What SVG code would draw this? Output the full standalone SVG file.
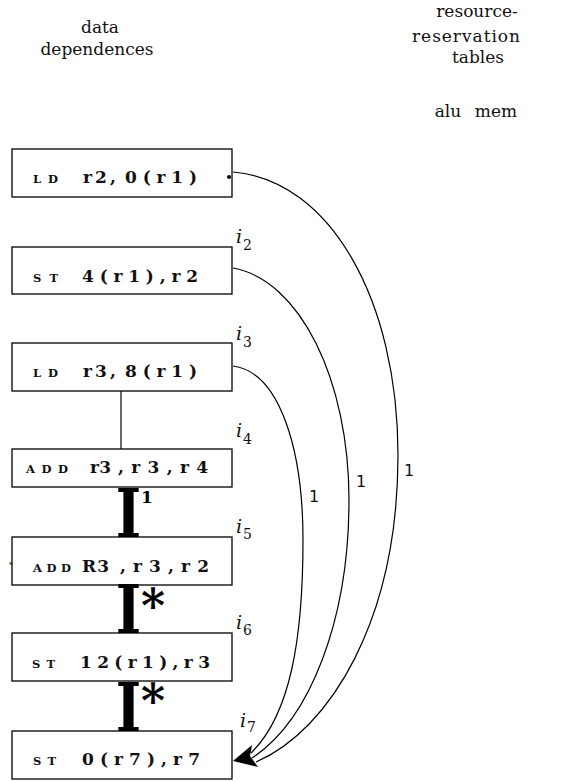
<svg xmlns="http://www.w3.org/2000/svg" width="580" height="782" viewBox="0 0 580 782">
<style>
.bg{fill:#fff}
.box{fill:#fff;stroke:#000;stroke-width:1.3}
.hd{font-family:'DejaVu Serif',serif;font-size:17px;fill:#111;text-anchor:middle}
.sc{font-family:'DejaVu Serif',serif;font-weight:bold;font-size:11.5px;fill:#111}
.tx{font-family:'DejaVu Serif',serif;font-weight:bold;font-size:17px;fill:#111}
.lbl{font-family:'DejaVu Serif',serif;font-style:italic;font-size:19px;fill:#111}
.sub{font-family:'DejaVu Serif',serif;font-size:14px;fill:#111}
.big{font-family:'DejaVu Serif',serif;font-weight:bold;font-size:68px;fill:#000}
.sup{font-family:'DejaVu Serif',serif;font-weight:bold;font-size:17px;fill:#000}
.ast{font-family:'DejaVu Serif',serif;font-weight:bold;font-size:46px;fill:#000}
.num{font-family:'DejaVu Sans',sans-serif;font-size:16px;fill:#111}
.arc{fill:none;stroke:#000;stroke-width:1.2}
</style>
<rect class="bg" x="0" y="0" width="580" height="782"/>

<g id="headers">
  <text class="hd" x="100" y="33">data</text>
  <text class="hd" x="97" y="55">dependences</text>
  <text class="hd" x="477" y="17">resource-</text>
  <text class="hd" x="466" y="42" textLength="108">reservation</text>
  <text class="hd" x="478" y="63">tables</text>
  <text class="hd" x="448" y="117">alu</text>
  <text class="hd" x="496" y="117">mem</text>
</g>

<g id="n1">
  <rect class="box" x="12" y="149" width="220" height="48"/>
  <text class="sc" x="33" y="183" textLength="25">LD</text>
  <text class="tx" x="83" y="183" textLength="33">r2,</text>
  <text class="tx" x="125" y="183" textLength="72">0(r1)</text>
  <circle cx="229" cy="177" r="2" fill="#000"/>
</g>

<g id="n2">
  <rect class="box" x="12" y="247" width="220" height="47"/>
  <text class="sc" x="33" y="282" textLength="25">ST</text>
  <text class="tx" x="82" y="282" textLength="116">4(r1),r2</text>
  <text class="lbl" x="236" y="243">i</text><text class="sub" x="243" y="250">2</text>
</g>

<g id="n3">
  <rect class="box" x="12" y="343" width="220" height="48"/>
  <text class="sc" x="33" y="377" textLength="25">LD</text>
  <text class="tx" x="83" y="377" textLength="33">r3,</text>
  <text class="tx" x="125" y="377" textLength="72">8(r1)</text>
  <text class="lbl" x="236" y="340">i</text><text class="sub" x="243" y="347">3</text>
</g>

<g id="n4">
  <rect class="box" x="12" y="449" width="220" height="38"/>
  <text class="sc" x="26" y="473" textLength="42">ADD</text>
  <text class="tx" x="90" y="473" textLength="21">r3</text>
  <text class="tx" x="118" y="473" textLength="90">,r3,r4</text>
  <text class="lbl" x="236" y="437">i</text><text class="sub" x="243" y="444">4</text>
</g>

<g id="n5">
  <rect class="box" x="12" y="537" width="220" height="48"/>
  <text class="sc" x="9" y="567" style="font-size:7px">*</text>
  <text class="sc" x="33" y="572" textLength="38">ADD</text>
  <text class="tx" x="82" y="572" textLength="27">R3</text>
  <text class="tx" x="120" y="572" textLength="89">,r3,r2</text>
  <text class="lbl" x="236" y="533">i</text><text class="sub" x="243" y="539">5</text>
</g>

<g id="n6">
  <rect class="box" x="12" y="633" width="220" height="48"/>
  <text class="sc" x="32" y="668" textLength="23">ST</text>
  <text class="tx" x="80" y="668" textLength="130">12(r1),r3</text>
  <text class="lbl" x="236" y="629">i</text><text class="sub" x="243" y="635">6</text>
</g>

<g id="n7">
  <rect class="box" x="12" y="731" width="220" height="48"/>
  <text class="sc" x="33" y="765" textLength="23">ST</text>
  <text class="tx" x="82" y="765" textLength="118">0(r7),r7</text>
  <text class="lbl" x="240" y="727">i</text><text class="sub" x="247" y="732">7</text>
</g>

<g id="connectors">
  <line x1="121" y1="391" x2="121" y2="449" stroke="#000" stroke-width="1.2"/>
  <text class="big" transform="translate(128.5,537) scale(0.8,1)" text-anchor="middle">I</text>
  <text class="sup" x="141" y="503">1</text>
  <text class="big" transform="translate(128.5,633) scale(0.8,1)" text-anchor="middle">I</text>
  <text class="ast" x="141" y="622">*</text>
  <text class="big" transform="translate(128.5,731) scale(0.8,1)" text-anchor="middle">I</text>
  <text class="ast" x="141" y="717">*</text>

  <path class="arc" d="M233,172 C330,180 398,300 398,455 C398,620 330,730 256,762"/>
  <path class="arc" d="M233,268 C300,280 349,380 349,500 C349,620 310,720 252,758"/>
  <path class="arc" d="M233,366 C280,372 303,450 303,540 C303,640 290,715 251,753"/>
  <polygon points="233,761 252,745 250,756 258,767" fill="#000"/>
  <text class="num" x="404" y="476">1</text>
  <text class="num" x="356" y="487">1</text>
  <text class="num" x="309" y="502">1</text>
</g>
</svg>
